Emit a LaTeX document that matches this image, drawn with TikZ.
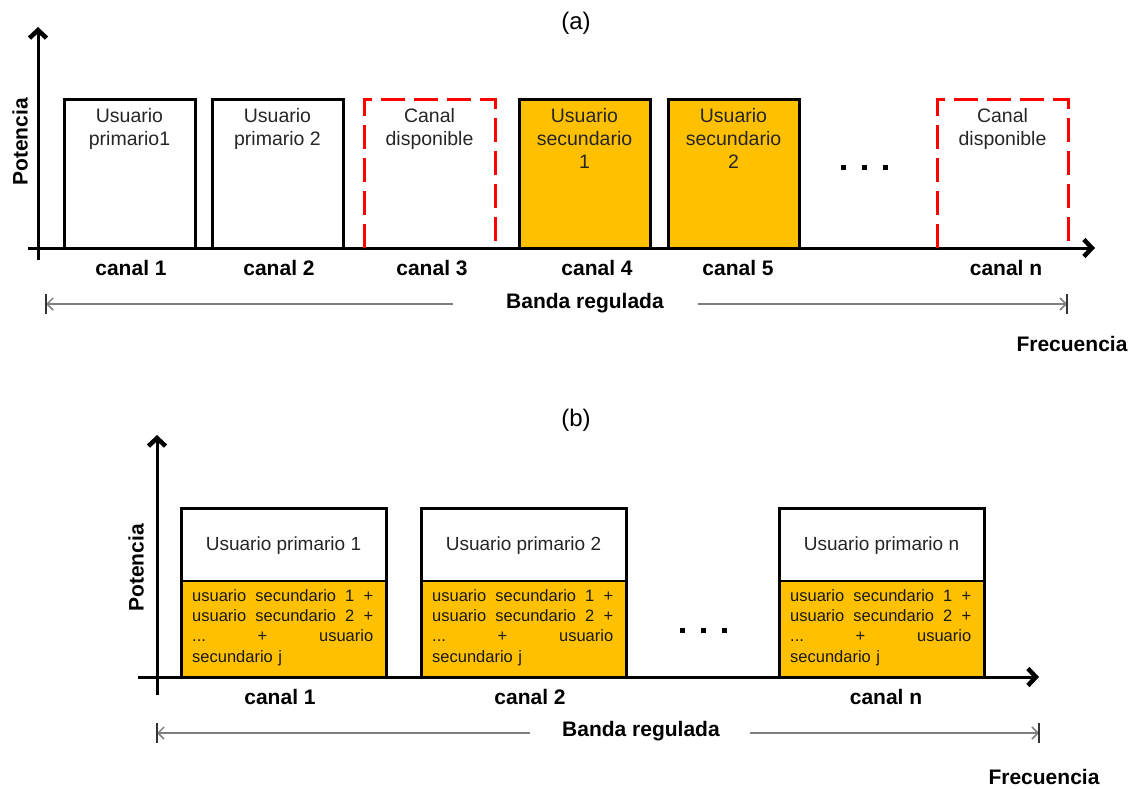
\documentclass[tikz,border=0pt]{standalone}
\usepackage{fontspec}
\setmainfont{Liberation Sans}
\usetikzlibrary{arrows.meta}
\definecolor{gold}{HTML}{FFC000}
\definecolor{dashred}{HTML}{FF0000}
\definecolor{bandgray}{HTML}{7F7F7F}

\begin{document}
\begin{tikzpicture}[x=1pt,y=-1pt,
  axis/.style={line width=3pt, -{Straight Barb[length=8pt,width=17pt,line width=0pt 1.5]}},
  chan/.style={minimum width=131pt, minimum height=148pt, anchor=south west, inner sep=0pt, outer sep=0pt},
  primbox/.style={chan, draw=black, line width=3pt, fill=white},
  secbox/.style={chan, draw=black, line width=3pt, fill=gold},
  freebox/.style={chan},
  freeedge/.style={draw=dashred, line width=3pt, dash pattern=on 24pt off 9pt},
  boxtitle/.style={font=\fontsize{19.5}{23}\selectfont, align=center, anchor=north, inner sep=0pt, text=black!85},
  lbl/.style={font=\fontsize{21}{25}\selectfont\bfseries, inner sep=0pt},
  yname/.style={lbl, rotate=90},
  band/.style={draw=bandgray, line width=1.5pt, -{Straight Barb[length=6pt,width=12pt]}},
  bandbar/.style={draw=black!80, line width=1.6pt},
  dot/.style={fill=black, minimum size=5pt, inner sep=0pt},
  toppart/.style={draw=black, line width=2pt, fill=white, minimum width=205pt, minimum height=73pt, anchor=south west, inner sep=0pt, outer sep=0pt},
  lowpart/.style={draw=black, line width=2pt, fill=gold, minimum width=205pt, minimum height=96pt, anchor=south west, inner sep=0pt, outer sep=0pt},
  frame/.style={draw=black, line width=3pt},
  primtitle/.style={font=\fontsize{19}{23}\selectfont, inner sep=0pt, text=black!85},
  sectext/.style={font=\fontsize{16.5}{20.3}\selectfont, text width=181pt, align=left, anchor=north west, inner sep=0pt, text=black!90},
]
\useasboundingbox (0,0) rectangle (1136,789);

% ---------------- (a) ----------------
\node[font=\fontsize{24}{28}\selectfont, inner sep=0pt] (ta) at (576,23) {(a)};

\coordinate (ya0) at (38,260);
\coordinate (ya1) at (38,27);
\coordinate (xa0) at (28,248);
\coordinate (xa1) at (1095,248);
\draw[axis] (xa0) -- (xa1);
\draw[axis] (ya0) -- (ya1);
\node[yname] (pa) at (20,142) {Potencia};

\node[primbox] (a1) at (64,248) {};
\node[primbox] (a2) at (212,248) {};
\node[freebox] (a3) at (364,248) {};
\node[secbox]  (a4) at (519,248) {};
\node[secbox]  (a5) at (668,248) {};
\node[freebox] (an) at (937,248) {};

\draw[freeedge] (a3.south west) -- (a3.north west) -- (a3.north east) -- (a3.south east);
\draw[freeedge] (an.south west) -- (an.north west) -- (an.north east) -- (an.south east);

\node[boxtitle] at ([yshift=-8pt]a1.north) {Usuario\\primario1};
\node[boxtitle] at ([yshift=-8pt]a2.north) {Usuario\\primario 2};
\node[boxtitle] at ([yshift=-8pt]a3.north) {Canal\\disponible};
\node[boxtitle] at ([yshift=-8pt]a4.north) {Usuario\\secundario\\1};
\node[boxtitle] at ([yshift=-8pt]a5.north) {Usuario\\secundario\\2};
\node[boxtitle] at ([yshift=-8pt]an.north) {Canal\\disponible};

\node[dot] (da1) at (843,168) {};
\node[dot] (da2) at (864,168) {};
\node[dot] (da3) at (885,168) {};

\node[lbl] (ca1) at (131,268) {canal 1};
\node[lbl] (ca2) at (279,268) {canal 2};
\node[lbl] (ca3) at (432,268) {canal 3};
\node[lbl] (ca4) at (597,268) {canal 4};
\node[lbl] (ca5) at (738,268) {canal 5};
\node[lbl] (can) at (1006,268) {canal n};

\node[lbl] (banda) at (585,303) {Banda regulada};
\coordinate (bal) at (46,304);
\coordinate (bar) at (1067,304);
\draw[band] ([xshift=-53pt,yshift=-1pt]banda.west) -- (bal);
\draw[band] ([xshift=34pt,yshift=-1pt]banda.east) -- (bar);
\draw[bandbar] ([yshift=10pt]bal) -- ([yshift=-10pt]bal);
\draw[bandbar] ([yshift=10pt]bar) -- ([yshift=-10pt]bar);

\node[lbl] (fa) at (1072,344) {Frecuencia};

% ---------------- (b) ----------------
\node[font=\fontsize{24}{28}\selectfont, inner sep=0pt] (tb) at (576,420) {(b)};

\coordinate (yb0) at (157,695);
\coordinate (yb1) at (157,435);
\coordinate (xb0) at (138,677);
\coordinate (xb1) at (1039,677);
\draw[axis] (xb0) -- (xb1);
\draw[axis] (yb0) -- (yb1);
\node[yname] (pb) at (136,568) {Potencia};

\foreach \k/\x/\n in {1/181/1, 2/421/2, 3/779/n}{
  \node[lowpart] (s\k) at (\x,677) {};
  \node[toppart] (p\k) at (s\k.north west) {};
  \draw[frame] (s\k.south west) rectangle (p\k.north east);
  \node[primtitle] at ([yshift=-1.5pt]p\k.center) {Usuario primario \n};
  \node[sectext] at ([xshift=11pt,yshift=-8pt]s\k.north west)
    {usuario\hfill secundario\hfill 1\hfill +\\
     usuario\hfill secundario\hfill 2\hfill +\\
     ...\hfill +\hfill usuario\\
     secundario j};
}

\node[dot] (db1) at (682,630) {};
\node[dot] (db2) at (703,630) {};
\node[dot] (db3) at (724,630) {};

\node[lbl] (cb1) at (280,697) {canal 1};
\node[lbl] (cb2) at (530,697) {canal 2};
\node[lbl] (cbn) at (886,697) {canal n};

\node[lbl] (bandb) at (641,731) {Banda regulada};
\coordinate (bbl) at (157,733);
\coordinate (bbr) at (1039,733);
\draw[band] ([xshift=-32pt,yshift=-2pt]bandb.west) -- (bbl);
\draw[band] ([xshift=30pt,yshift=-2pt]bandb.east) -- (bbr);
\draw[bandbar] ([yshift=10pt]bbl) -- ([yshift=-10pt]bbl);
\draw[bandbar] ([yshift=10pt]bbr) -- ([yshift=-10pt]bbr);

\node[lbl] (fb) at (1044,777) {Frecuencia};
\end{tikzpicture}
\end{document}
